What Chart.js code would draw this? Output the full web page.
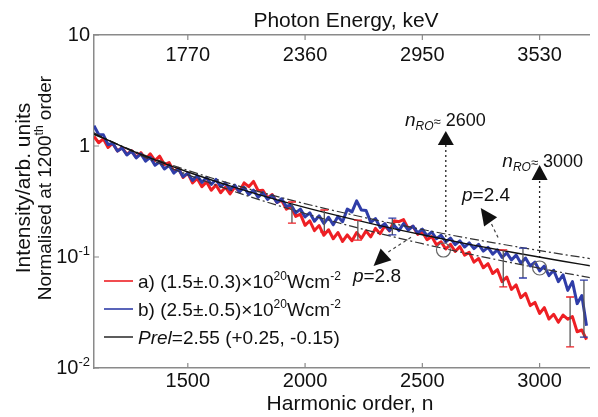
<!DOCTYPE html>
<html>
<head>
<meta charset="utf-8">
<script src="https://cdn.jsdelivr.net/npm/chart.js@4.4.0/dist/chart.umd.min.js"></script>
<style>
html, body { margin: 0; padding: 0; background: #fff; overflow: hidden; }
#wrap { width: 598px; height: 417px; }
</style>
</head>
<body>
<div id="wrap"><canvas id="hhg"></canvas></div>
<script>
// HHG spectra, normalised at 1200th order

// harmonic order n (x) for both measured spectra
const harmonicN = [1100,1120,1140,1160,1180,1200,1220,1240,1260,1280,1300,1320,1340,1360,1380,1400,1420,1440,1460,1480,
  1500,1520,1540,1560,1580,1600,1620,1640,1660,1680,1700,1720,1740,1760,1780,1800,1820,1840,1860,1880,
  1900,1920,1940,1960,1980,2000,2020,2040,2060,2080,2100,2120,2140,2160,2180,2200,2220,2240,2260,2280,
  2300,2320,2340,2360,2380,2400,2420,2440,2460,2480,2500,2520,2540,2560,2580,2600,2620,2640,2660,2680,
  2700,2720,2740,2760,2780,2800,2820,2840,2860,2880,2900,2920,2940,2960,2980,3000,3020,3040,3060,3080,
  3100,3120,3140,3160,3180,3200];

// a) (1.5±0.3)x10^20 Wcm-2
const redI = [1.22,1.07,1.16,0.97,1.06,0.90,0.97,0.84,0.91,0.79,0.87,0.76,0.85,0.74,0.81,0.68,0.71,0.59,0.63,0.52,
  0.57,0.465,0.51,0.43,0.475,0.40,0.445,0.38,0.425,0.37,0.425,0.39,0.465,0.43,0.48,0.395,0.40,0.34,0.365,0.31,
  0.325,0.27,0.285,0.232,0.243,0.193,0.212,0.173,0.192,0.157,0.176,0.146,0.166,0.138,0.158,0.14,0.166,0.147,0.172,0.152,
  0.181,0.162,0.191,0.172,0.212,0.208,0.217,0.18,0.189,0.16,0.168,0.143,0.153,0.129,0.137,0.118,0.13,0.112,0.124,0.104,
  0.11,0.09,0.097,0.08,0.087,0.071,0.077,0.06,0.066,0.051,0.056,0.043,0.047,0.0365,0.039,0.031,0.035,0.0276,0.0305,0.0258,
  0.03,0.0275,0.029,0.0212,0.022,0.018];

// b) (2.5±0.5)x10^20 Wcm-2
const blueI = [1.52,1.27,1.26,1.03,1.06,0.90,0.96,0.83,0.90,0.78,0.85,0.73,0.79,0.67,0.72,0.62,0.67,0.57,0.62,0.53,
  0.57,0.49,0.54,0.47,0.52,0.45,0.50,0.43,0.465,0.405,0.445,0.385,0.425,0.365,0.40,0.345,0.38,0.33,0.36,0.31,
  0.335,0.285,0.295,0.25,0.27,0.23,0.25,0.21,0.235,0.2,0.228,0.195,0.232,0.208,0.27,0.255,0.32,0.265,0.262,0.205,
  0.222,0.185,0.2,0.173,0.192,0.173,0.2,0.175,0.19,0.165,0.178,0.155,0.168,0.146,0.157,0.137,0.148,0.129,0.14,0.123,
  0.134,0.119,0.13,0.113,0.122,0.106,0.116,0.099,0.109,0.094,0.104,0.088,0.098,0.083,0.09,0.075,0.083,0.068,0.076,0.06,
  0.069,0.05,0.06,0.038,0.045,0.024];

// power-law fits
const fitN = [1100,1300,1500,1700,1900,2100,2300,2500,2700,2900,3100,3220];
const fitP24 = [1.269,0.850,0.603,0.4465,0.342,0.269,0.216,0.177,0.147,0.124,0.1056,0.0964];
const fitP255 = [1.286,0.840,0.583,0.424,0.319,0.247,0.196,0.1585,0.130,0.1086,0.0916,0.0831];
const fitP28 = [1.314,0.823,0.551,0.388,0.2845,0.215,0.1666,0.1318,0.1064,0.0871,0.0722,0.0650];

// error bars
const errN = [1944,2082,2225,2372,2845,2929,3130,3189];
const errLo = [0.202,0.168,0.142,0.158,0.0537,0.0647,0.0155,0.019];
const errHi = [0.313,0.265,0.215,0.224,0.116,0.12,0.0436,0.062];
const errSet = ['a','a','a','b','a','b','a','b'];

// roll-over points n_RO
const roN = [2590, 3000];
const roI = [0.1156, 0.0796];

// axes
const xMin = 1100, xMax = 3214;
const xTicks = [1500, 2000, 2500, 3000];
const topLabels = ['1770', '2360', '2950', '3530'];
const yTicks = [10, 1, 0.1, 0.01];
const yLabels = [['10', ''], ['1', ''], ['10', '-1'], ['10', '-2']];

const RED = '#ee1f24';
const BLUE = '#2f3da8';
const AXIS = '#8a8a8a';
const FONT = "'Liberation Sans', Arial, sans-serif";

const pts = (xs, ys) => xs.map((x, i) => ({ x: x, y: ys[i] }));

function fontOf(p) {
    return (p[2] || '') + ' ' + p[1] + 'px ' + FONT;
}

// draw a run of text pieces: [text, size, style, rise]
function richText(ctx, x, y, parts, align) {
    let w = 0;
    parts.forEach(p => { ctx.font = fontOf(p); w += ctx.measureText(p[0]).width; });
    let cx = align === 'right' ? x - w : (align === 'center' ? x - w / 2 : x);
    ctx.textAlign = 'left';
    ctx.textBaseline = 'alphabetic';
    parts.forEach(p => {
        ctx.font = fontOf(p);
        ctx.fillText(p[0], cx, y - (p[3] || 0));
        cx += ctx.measureText(p[0]).width;
    });
}

function arrowHead(ctx, x, y, dx, dy, len, half) {
    const d = Math.hypot(dx, dy);
    const ux = dx / d, uy = dy / d;
    const bx = x - ux * len, by = y - uy * len;
    ctx.beginPath();
    ctx.moveTo(x, y);
    ctx.lineTo(bx - uy * half, by + ux * half);
    ctx.lineTo(bx + uy * half, by - ux * half);
    ctx.closePath();
    ctx.fill();
}

const hhgPlugin = {
    id: 'hhgDecor',
    afterDatasetsDraw(chart) {
        const ctx = chart.ctx, xs = chart.scales.x, ys = chart.scales.y;
        ctx.save();
        // error bars
        errN.forEach((n, i) => {
            const x = xs.getPixelForValue(n);
            const y1 = ys.getPixelForValue(errHi[i]);
            const y2 = ys.getPixelForValue(errLo[i]);
            ctx.strokeStyle = '#555';
            ctx.lineWidth = 1.3;
            ctx.beginPath(); ctx.moveTo(x, y1); ctx.lineTo(x, y2); ctx.stroke();
            ctx.strokeStyle = errSet[i] === 'a' ? RED : BLUE;
            ctx.beginPath();
            ctx.moveTo(x - 4, y1); ctx.lineTo(x + 4, y1);
            ctx.moveTo(x - 4, y2); ctx.lineTo(x + 4, y2);
            ctx.stroke();
        });
        ctx.restore();
    },
    afterDraw(chart) {
        const ctx = chart.ctx, xs = chart.scales.x, ys = chart.scales.y;
        const area = chart.chartArea;
        const px = v => xs.getPixelForValue(v);
        const py = v => ys.getPixelForValue(v);
        ctx.save();
        ctx.fillStyle = '#111';

        // inward tick marks
        ctx.strokeStyle = AXIS;
        ctx.lineWidth = 1.2;
        ctx.beginPath();
        xTicks.forEach(v => {
            ctx.moveTo(px(v), area.bottom); ctx.lineTo(px(v), area.bottom - 5);
            ctx.moveTo(px(v), area.top); ctx.lineTo(px(v), area.top + 5);
        });
        yTicks.forEach(v => {
            ctx.moveTo(area.left, py(v)); ctx.lineTo(area.left + 5, py(v));
        });
        ctx.stroke();

        // tick labels
        xTicks.forEach((v, i) => {
            richText(ctx, px(v), area.bottom + 19, [[String(v), 20]], 'center');
            richText(ctx, px(v), area.top + 26, [[topLabels[i], 20]], 'center');
        });
        yTicks.forEach((v, i) => {
            const lab = yLabels[i];
            const parts = [[lab[0], 20]];
            if (lab[1]) parts.push([lab[1], 13, '', 8]);
            richText(ctx, area.left - 4, py(v) + 6, parts, 'right');
        });

        // axis titles
        richText(ctx, 346, 27, [['Photon Energy, keV', 21]], 'center');
        richText(ctx, 350, 410, [['Harmonic order, n', 21]], 'center');
        ctx.save();
        ctx.translate(30, 188);
        ctx.rotate(-Math.PI / 2);
        richText(ctx, 0, 0, [['Intensity/arb. units', 21]], 'center');
        ctx.restore();
        ctx.save();
        ctx.translate(51, 188);
        ctx.rotate(-Math.PI / 2);
        richText(ctx, 0, 0, [['Normalised at 1200', 19], ['th', 12, '', 8], [' order', 19]], 'center');
        ctx.restore();

        // legend
        const legend = [
            [RED, [['a) (1.5±.0.3)×10', 19], ['20', 12, '', 8], ['Wcm', 19], ['-2', 12, '', 8]]],
            [BLUE, [['b) (2.5±.0.5)×10', 19], ['20', 12, '', 8], ['Wcm', 19], ['-2', 12, '', 8]]],
            ['#333', [['Prel', 19, 'italic'], ['=2.55 (+0.25, -0.15)', 19]]]
        ];
        legend.forEach((row, i) => {
            const y = 281 + i * 28;
            ctx.strokeStyle = row[0];
            ctx.lineWidth = 1.6;
            ctx.beginPath(); ctx.moveTo(104, y); ctx.lineTo(133, y); ctx.stroke();
            richText(ctx, 138, y + 7, row[1], 'left');
        });

        // n_RO annotations
        arrowHead(ctx, px(2600), py(1.365), 0, -1, 14, 8);
        arrowHead(ctx, px(3000), py(0.674), 0, -1, 15, 8);
        richText(ctx, px(2426), py(1.514), [['n', 19, 'italic'], ['RO', 12, 'italic', -4], ['≈', 13], [' 2600', 18]], 'left');
        richText(ctx, px(2841), py(0.647), [['n', 19, 'italic'], ['RO', 12, 'italic', -4], ['≈', 13], [' 3000', 18]], 'left');

        // slope annotations
        ctx.strokeStyle = '#444';
        ctx.lineWidth = 1.2;
        ctx.setLineDash([3, 3]);
        ctx.beginPath();
        ctx.moveTo(px(2795), py(0.198)); ctx.lineTo(px(2828), py(0.142));
        ctx.moveTo(px(2355), py(0.111)); ctx.lineTo(px(2460), py(0.1545));
        ctx.stroke();
        ctx.setLineDash([]);
        arrowHead(ctx, px(2749), py(0.276), -10, -14, 17, 8);
        arrowHead(ctx, px(2292), py(0.083), -13, 12, 17, 8);
        richText(ctx, px(2669), py(0.32), [['p', 19, 'italic'], ['=2.4', 19]], 'left');
        richText(ctx, px(2204), py(0.0596), [['p', 19, 'italic'], ['=2.8', 19]], 'left');

        ctx.restore();
    }
};

const lineBase = { pointRadius: 0, fill: false, tension: 0 };

new Chart(document.getElementById('hhg'), {
    type: 'line',
    data: {
        datasets: [
            Object.assign({ data: pts(fitN, fitP255), borderColor: '#111', borderWidth: 1.4, cubicInterpolationMode: 'monotone', order: 0 }, lineBase),
            Object.assign({ data: pts(fitN, fitP24), borderColor: '#333', borderWidth: 1.2, borderDash: [9, 3, 2, 3], cubicInterpolationMode: 'monotone', order: 0 }, lineBase),
            Object.assign({ data: pts(fitN, fitP28), borderColor: '#333', borderWidth: 1.2, borderDash: [9, 3, 2, 3], cubicInterpolationMode: 'monotone', order: 0 }, lineBase),
            Object.assign({ data: [{ x: 2600, y: 1.02 }, { x: 2600, y: 0.134 }], borderColor: '#222', borderWidth: 1.3, borderDash: [2, 3], order: 0 }, lineBase),
            Object.assign({ data: [{ x: 3000, y: 0.484 }, { x: 3000, y: 0.092 }], borderColor: '#222', borderWidth: 1.3, borderDash: [2, 3], order: 0 }, lineBase),
            { type: 'scatter', data: pts(roN, roI), pointRadius: 7, pointBorderColor: '#666', pointBorderWidth: 1.2, pointBackgroundColor: 'rgba(0,0,0,0)', showLine: false, order: 0 },
            Object.assign({ data: pts(harmonicN, blueI), borderColor: BLUE, borderWidth: 3, borderJoinStyle: 'round', order: 1 }, lineBase),
            Object.assign({ data: pts(harmonicN, redI), borderColor: RED, borderWidth: 3, borderJoinStyle: 'round', order: 2 }, lineBase)
        ]
    },
    options: {
        responsive: true,
        maintainAspectRatio: false,
        animation: false,
        layout: { padding: { left: 94, top: 35, right: 0, bottom: 49 } },
        plugins: { legend: { display: false }, tooltip: { enabled: false } },
        scales: {
            x: {
                type: 'linear', position: 'bottom', min: xMin, max: xMax,
                grid: { display: false }, ticks: { display: false },
                border: { display: true, color: AXIS, width: 1.5 },
                afterFit: s => { s.height = 0; }
            },
            xTop: {
                type: 'linear', position: 'top', min: xMin, max: xMax,
                grid: { display: false }, ticks: { display: false },
                border: { display: true, color: AXIS, width: 1.5 },
                afterFit: s => { s.height = 0; }
            },
            y: {
                type: 'logarithmic', min: 0.01, max: 10,
                grid: { display: false }, ticks: { display: false },
                border: { display: true, color: AXIS, width: 1.5 },
                afterFit: s => { s.width = 0; }
            }
        }
    },
    plugins: [hhgPlugin]
});
</script>
</body>
</html>
